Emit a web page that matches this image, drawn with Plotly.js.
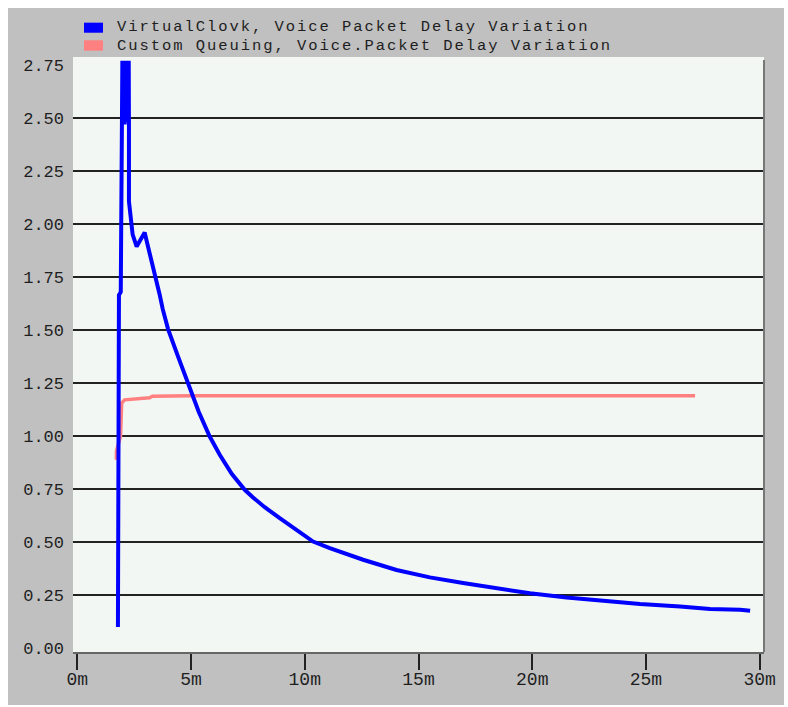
<!DOCTYPE html>
<html>
<head>
<meta charset="utf-8">
<script src="https://cdn.plot.ly/plotly-3.0.1.min.js"></script>
<style>
  html, body { margin: 0; padding: 0; background: #ffffff; }
  #chart { position: absolute; left: 8px; top: 8px; width: 776px; height: 697px; }
</style>
</head>
<body>
<div id="chart"></div>
<script>
// Series names
const seriesNames = [
  "VirtualClovk, Voice Packet Delay Variation",
  "Custom Queuing, Voice.Packet Delay Variation"
];

// VirtualClock: time (minutes) and delay variation
const vcTime = [1.786, 1.83, 1.91, 1.936,
  1.98, 2.00, 2.02, 2.04, 2.06, 2.08, 2.10, 2.12, 2.14, 2.16, 2.18, 2.20, 2.22, 2.24, 2.26, 2.27,
  2.27, 2.345, 2.433, 2.609, 2.741, 2.961, 3.049, 3.181, 3.401, 3.621, 3.753, 3.986, 4.413, 4.866,
  5.337, 5.821, 6.261, 6.788, 7.36, 7.712, 8.24, 8.9, 10.365, 11.1, 12.565, 14.034, 15.5,
  16.96, 18.43, 19.9, 21.51, 22.98, 24.74, 26.5, 27.82, 29.14, 29.58];
const vcValue = [0.10, 1.665, 1.68, 2.44,
  2.77, 2.47, 2.77, 2.47, 2.77, 2.47, 2.77, 2.48, 2.77, 2.48, 2.77, 2.48, 2.77, 2.48, 2.77, 2.46,
  2.107, 2.05, 1.95, 1.894, 1.92, 1.96, 1.92, 1.865, 1.76, 1.667, 1.60, 1.506, 1.38, 1.247,
  1.115, 0.998, 0.912, 0.822, 0.747, 0.712, 0.665, 0.613, 0.503, 0.472, 0.417, 0.369, 0.334,
  0.307, 0.283, 0.259, 0.239, 0.223, 0.208, 0.196, 0.185, 0.181, 0.176];

// Custom Queuing: time (minutes) and delay variation
const cqTime = [1.716, 1.72, 1.90, 1.936, 1.95, 2.08, 2.5, 3.18, 3.3, 5, 10, 15, 20, 25, 27.16];
const cqValue = [0.888, 0.93, 1.0, 1.10, 1.156, 1.171, 1.175, 1.181, 1.188, 1.19, 1.19, 1.19, 1.19, 1.19, 1.19];

// Axis ticks
const xTickVals = [0, 5, 10, 15, 20, 25, 30];
const xTickText = ["0m", "5m", "10m", "15m", "20m", "25m", "30m"];
const yTickVals = [0, 0.25, 0.5, 0.75, 1.0, 1.25, 1.5, 1.75, 2.0, 2.25, 2.5, 2.75];
const yGridVals = [0.25, 0.5, 0.75, 1.0, 1.25, 1.5, 1.75, 2.0, 2.25, 2.5];

const seriesColors = ["#0000ff", "#ff8080"];
const mono = "Liberation Mono, DejaVu Sans Mono, monospace";
const textColor = "#1e1e1e";
const xRange = [-0.19, 30.19];
const yRange = [-0.018, 2.788];

// custom queuing sits on the base axis, virtual clock on the overlay (drawn on top)
const data = [
  { x: cqTime, y: cqValue, type: "scatter", mode: "lines", name: seriesNames[1],
    line: { color: seriesColors[1], width: 3.5 }, showlegend: false, hoverinfo: "skip" },
  { x: vcTime, y: vcValue, type: "scatter", mode: "lines", name: seriesNames[0], yaxis: "y2",
    line: { color: seriesColors[0], width: 4 }, showlegend: false, hoverinfo: "skip" }
];

// legend swatches and labels placed above the plot area
const swatchRows = [[1.0408, 1.0577], [1.0106, 1.0281]];
const labelRows = [1.0504, 1.0193];
const shapes = [];
const annotations = [];
seriesNames.forEach((name, i) => {
  shapes.push({ type: "rect", xref: "paper", yref: "paper", x0: 0.0159, x1: 0.0434,
    y0: swatchRows[i][0], y1: swatchRows[i][1], fillcolor: seriesColors[i], line: { width: 0 } });
  annotations.push({ xref: "paper", yref: "paper", x: 0.0608, y: labelRows[i], xanchor: "left",
    yanchor: "middle", text: name, showarrow: false,
    font: { family: mono, size: 15.5, color: textColor } });
});
// sunken right border of the plot frame
shapes.push({ type: "line", xref: "paper", yref: "paper", x0: 1, x1: 1, y0: 0, y1: 0.995,
  line: { color: "#777777", width: 2 } });

const layout = {
  width: 776, height: 697,
  margin: { l: 65, r: 20, t: 49, b: 53, pad: 0 },
  paper_bgcolor: "#c0c0c0",
  plot_bgcolor: "#f3f7f3",
  showlegend: false,
  xaxis: {
    range: xRange, tickmode: "array", tickvals: xTickVals, ticktext: xTickText,
    showgrid: false, zeroline: false, showline: true, linecolor: "#666666", linewidth: 2,
    ticks: "outside", ticklen: 16, tickwidth: 2, tickcolor: "#222222",
    ticklabelstandoff: -7,
    tickfont: { family: mono, size: 18, color: textColor }
  },
  yaxis: {
    range: yRange, tickmode: "array", tickvals: yTickVals, tickformat: ".2f",
    showgrid: false, zeroline: false, showline: false, ticks: "",
    ticklabelstandoff: 8,
    tickfont: { family: mono, size: 17, color: textColor }
  },
  yaxis2: {
    overlaying: "y", range: yRange, tickmode: "array", tickvals: yGridVals,
    showticklabels: false, showgrid: true, gridcolor: "#222222", gridwidth: 2,
    zeroline: false, showline: false, ticks: ""
  },
  shapes: shapes,
  annotations: annotations
};

Plotly.newPlot("chart", data, layout, { staticPlot: true, displayModeBar: false }).then(() => {
  // widen the legend lettering to the spacing of the original bitmap font,
  // keeping each label's left edge where it was
  document.querySelectorAll("#chart .annotation-text").forEach(t => {
    const left = t.getBBox().x;
    t.style.letterSpacing = "1.95px";
    const shift = left - t.getBBox().x;
    t.setAttribute("transform", "translate(" + shift + ",0)");
  });
});
</script>
</body>
</html>
